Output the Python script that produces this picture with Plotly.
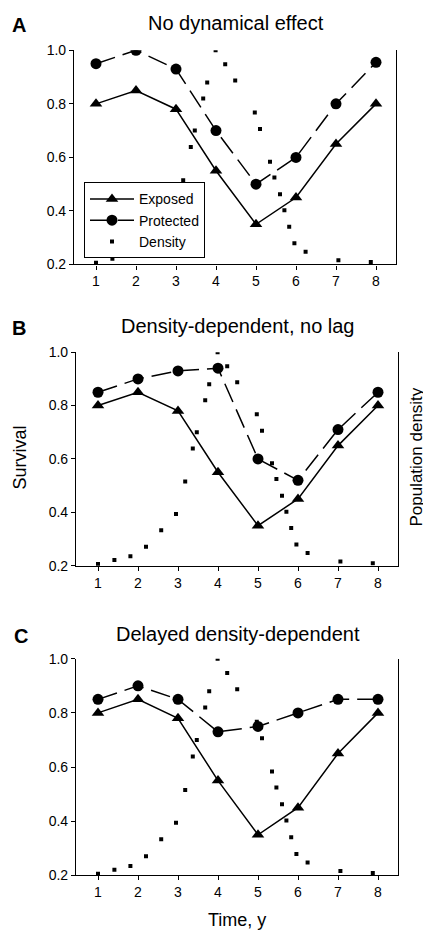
import plotly.graph_objects as go

# ---- data ----
years = [1, 2, 3, 4, 5, 6, 7, 8]
exposed = [0.80, 0.85, 0.78, 0.55, 0.35, 0.45, 0.65, 0.80]
protected_a = [0.95, 1.00, 0.93, 0.70, 0.50, 0.60, 0.80, 0.955]
protected_b = [0.85, 0.90, 0.93, 0.94, 0.60, 0.52, 0.71, 0.85]
protected_c = [0.85, 0.90, 0.85, 0.73, 0.75, 0.80, 0.85, 0.85]
density_time = [1.0, 1.41, 1.81, 2.2, 2.58, 2.95, 3.18, 3.37, 3.47, 3.68, 3.78, 3.99,
                4.23, 4.48, 4.97, 5.1, 5.35, 5.46, 5.6, 5.71, 5.83, 5.96, 6.24, 7.06, 7.87]
density = [0.206, 0.221, 0.235, 0.271, 0.333, 0.394, 0.515, 0.639, 0.70, 0.82, 0.88, 1.0,
           0.9475, 0.8875, 0.7675, 0.706, 0.584, 0.525, 0.4625, 0.4025, 0.341, 0.279,
           0.2475, 0.216, 0.209]
panel_titles = ["No dynamical effect", "Density-dependent, no lag", "Delayed density-dependent"]
panel_letters = ["A", "B", "C"]
y_ticks = [0.2, 0.4, 0.6, 0.8, 1.0]

FONT = "Arial, Liberation Sans, Helvetica, sans-serif"

# mapping between the photographed picture and figure pixels
SY = 0.982
OX, OY = 8, 16
W, H = 431, 924


def px(X):
    return (X - OX) / W


def py(Y):
    return 1 - (Y / SY - OY) / H


# reference pixel layout of the three plot areas: (left, right, top, bottom)
boxes = [(74, 396, 50, 264), (76, 398, 351.7, 565), (76, 398, 658, 874.5)]
title_y = [23, 325, 633]
letter_x = [19, 19, 21]

fig = go.Figure()
protected_sets = [protected_a, protected_b, protected_c]

for i in range(3):
    xa = "x" if i == 0 else f"x{i+1}"
    ya = "y" if i == 0 else f"y{i+1}"
    yr = f"y{i+4}"
    first = (i == 0)
    fig.add_trace(go.Scatter(
        x=years, y=exposed, name="Exposed", mode="lines+markers",
        line=dict(color="black", width=1.5),
        marker=dict(symbol="triangle-up", size=11, color="black"),
        xaxis=xa, yaxis=ya, showlegend=first, legendrank=1))
    fig.add_trace(go.Scatter(
        x=years, y=protected_sets[i], name="Protected", mode="lines+markers",
        line=dict(color="black", width=1.5, dash="20px,8px"),
        marker=dict(symbol="circle", size=11, color="black"),
        xaxis=xa, yaxis=ya, showlegend=first, legendrank=2))
    fig.add_trace(go.Scatter(
        x=density_time, y=density, name="Density", mode="markers",
        marker=dict(symbol="square", size=4, color="black"),
        xaxis=xa, yaxis=yr, showlegend=first, legendrank=3))

layout = dict(
    width=W, height=H, margin=dict(l=0, r=0, t=0, b=0),
    paper_bgcolor="white", plot_bgcolor="white",
    font=dict(family=FONT, size=14, color="black"),
    legend=dict(x=px(84), y=py(182), xanchor="left", yanchor="top",
                bgcolor="white", bordercolor="black", borderwidth=1,
                font=dict(size=14), tracegroupgap=0, itemwidth=44),
)

annotations = []
for i, (l, r, t, b) in enumerate(boxes):
    xd = [px(l), px(r)]
    yd = [py(b), py(t)]
    xkey = "xaxis" if i == 0 else f"xaxis{i+1}"
    ykey = "yaxis" if i == 0 else f"yaxis{i+1}"
    yrkey = f"yaxis{i+4}"
    xa_anchor = "y" if i == 0 else f"y{i+1}"
    xname = "x" if i == 0 else f"x{i+1}"
    yname = "y" if i == 0 else f"y{i+1}"
    layout[xkey] = dict(domain=xd, anchor=xa_anchor, range=[0.45, 8.5],
                        tickmode="array", tickvals=years, ticktext=[str(v) for v in years],
                        ticks="outside", ticklen=4, tickwidth=1.2, tickcolor="black",
                        showline=True, linecolor="black", linewidth=1.2,
                        showgrid=False, zeroline=False, tickfont=dict(size=14))
    layout[ykey] = dict(domain=yd, anchor=xname, range=[0.2, 1.0],
                        tickmode="array", tickvals=y_ticks,
                        ticktext=[f"{v:.1f}" for v in y_ticks],
                        ticks="outside", ticklen=4, tickwidth=1.2, tickcolor="black",
                        showline=True, mirror=True, linecolor="black", linewidth=1.2,
                        showgrid=False, zeroline=False, tickfont=dict(size=14))
    layout[yrkey] = dict(domain=yd, anchor=xname, overlaying=yname, side="right",
                         range=[0.2, 1.0], showticklabels=False, ticks="",
                         showline=False, showgrid=False, zeroline=False)
    annotations.append(dict(text=panel_titles[i], x=px((l + r) / 2 + 1), y=py(title_y[i]),
                            xref="paper", yref="paper", showarrow=False,
                            xanchor="center", yanchor="middle", font=dict(size=20)))
    annotations.append(dict(text=f"<b>{panel_letters[i]}</b>", x=px(letter_x[i]),
                            y=py(title_y[i] + 2),
                            xref="paper", yref="paper", showarrow=False,
                            xanchor="center", yanchor="middle", font=dict(size=20)))

annotations.append(dict(text="Survival", x=px(20), y=py(457), xref="paper", yref="paper",
                        showarrow=False, textangle=-90, xanchor="center", yanchor="middle",
                        font=dict(size=18)))
annotations.append(dict(text="Population density", x=px(417), y=py(457),
                        xref="paper", yref="paper", showarrow=False, textangle=-90,
                        xanchor="center", yanchor="middle", font=dict(size=17)))
annotations.append(dict(text="Time, y", x=px(237), y=py(919), xref="paper", yref="paper",
                        showarrow=False, xanchor="center", yanchor="middle",
                        font=dict(size=18)))
layout["annotations"] = annotations

fig.update_layout(**layout)
fig.write_html("out.html")
